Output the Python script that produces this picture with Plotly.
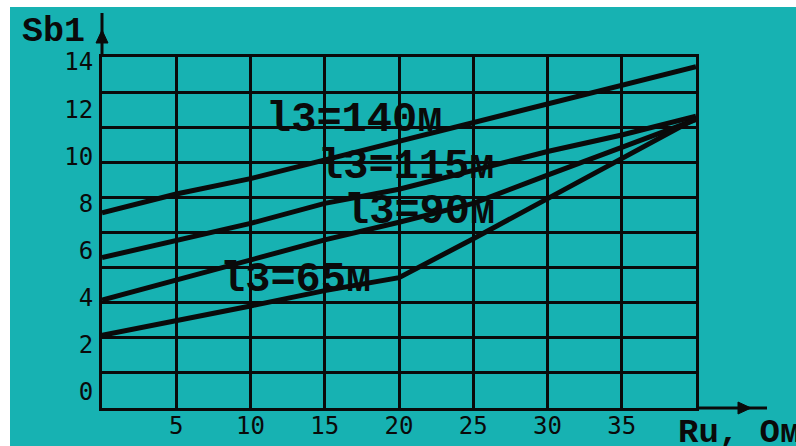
import plotly.graph_objects as go

# Sb1 versus Ru for four grounding-conductor lengths
ru = [0, 5, 10, 15, 20, 25, 30, 35, 40]
sb_140 = [7.6, 8.4, 9.05, 9.85, 10.6, 11.4, 12.2, 13.0, 13.8]
sb_115 = [5.7, 6.4, 7.15, 8.0, 8.6, 9.4, 10.2, 10.9, 11.7]
sb_90 = [3.9, 4.75, 5.6, 6.45, 7.2, 8.0, 9.2, 10.4, 11.55]
sb_65 = [2.4, 3.0, 3.65, 4.3, 4.85, 6.5, 8.2, 9.85, 11.6]

curves = [
    ("l3=140м", sb_140, 17.0, 11.54),
    ("l3=115м", sb_115, 20.5, 9.55),
    ("l3=90м", sb_90, 21.4, 7.64),
    ("l3=65м", sb_65, 13.0, 4.75),
]

x_ticks = [5, 10, 15, 20, 25, 30, 35]
y_ticks = [0, 2, 4, 6, 8, 10, 12, 14]

BG = "#17b2b2"
INK = "#0a0a0a"
W, H = 796, 446
L, R, T, B = 102, 100, 57, 38
PW, PH = W - L - R, H - T - B


def px(xp):
    return (xp - L) / PW


def py(yp):
    return (H - B - yp) / PH


fig = go.Figure()
for name, ys, lx, ly in curves:
    fig.add_trace(go.Scatter(x=ru, y=ys, mode="lines", name=name,
                             line=dict(color=INK, width=5),
                             showlegend=False, hoverinfo="skip"))
    fig.add_annotation(x=lx, y=ly, xref="x", yref="y", text=name,
                       showarrow=False, xanchor="center", yanchor="middle",
                       font=dict(family="Liberation Mono", size=42,
                                 color=INK, weight="bold"))

# extra overlay axis that carries the evenly spaced horizontal grid
fig.add_trace(go.Scatter(x=[0], y=[0], yaxis="y2", mode="markers",
                         marker=dict(opacity=0), showlegend=False,
                         hoverinfo="skip"))

tick_font = dict(family="DejaVu Sans Mono", size=24, color=INK)

shapes = [
    # white edge strips
    dict(type="rect", xref="paper", yref="paper", x0=px(0), x1=px(10),
         y0=py(H), y1=py(0), fillcolor="white", line_width=0),
    dict(type="rect", xref="paper", yref="paper", x0=px(0), x1=px(W),
         y0=py(7), y1=py(0), fillcolor="white", line_width=0),
    # axis extensions with arrowheads
    dict(type="line", xref="paper", yref="paper", x0=0, x1=0,
         y0=1, y1=py(13), line=dict(color=INK, width=3)),
    dict(type="path", xref="paper", yref="paper",
         path=f"M {px(96)},{py(43)} L {px(108)},{py(43)} L {px(102)},{py(30)} Z",
         fillcolor=INK, line=dict(color=INK, width=1)),
    dict(type="line", xref="paper", yref="paper", x0=1, x1=px(767),
         y0=0, y1=0, line=dict(color=INK, width=3)),
    dict(type="path", xref="paper", yref="paper",
         path=f"M {px(738)},{py(402)} L {px(738)},{py(414)} L {px(751)},{py(408)} Z",
         fillcolor=INK, line=dict(color=INK, width=1)),
]

fig.add_annotation(x=px(54), y=py(32), xref="paper", yref="paper",
                   text="Sb1", showarrow=False,
                   xanchor="center", yanchor="middle",
                   font=dict(family="Liberation Mono", size=35, color=INK,
                             weight="bold"))
fig.add_annotation(x=px(676), y=py(433), xref="paper", yref="paper",
                   text="Ru, Ом", showarrow=False,
                   xanchor="left", yanchor="middle",
                   font=dict(family="Liberation Mono", size=34, color=INK,
                             weight="bold"))

fig.update_layout(
    width=W, height=H, autosize=False,
    margin=dict(l=L, r=R, t=T, b=B, pad=0, autoexpand=False),
    paper_bgcolor=BG, plot_bgcolor=BG,
    shapes=shapes,
    xaxis=dict(range=[0, 40], tickvals=x_ticks, ticktext=[str(v) for v in x_ticks],
               showgrid=True, gridcolor=INK, gridwidth=3, automargin=False,
               zeroline=False, showline=True, linecolor=INK, linewidth=3,
               mirror=True, ticks="", tickfont=tick_font,
               ticklabelstandoff=-6, fixedrange=True),
    yaxis=dict(range=[-0.68, 14.21], tickvals=y_ticks,
               ticktext=[str(v) for v in y_ticks], automargin=False,
               showgrid=False, zeroline=False, showline=True, linecolor=INK,
               linewidth=3, mirror=True, ticks="", tickfont=tick_font,
               ticklabelstandoff=1, fixedrange=True),
    yaxis2=dict(range=[0, 10], dtick=1, overlaying="y", side="right",
                showgrid=True, gridcolor=INK, gridwidth=3, automargin=False,
                showticklabels=False, zeroline=False, showline=False,
                ticks="", fixedrange=True),
)

fig.write_html("out.html")
